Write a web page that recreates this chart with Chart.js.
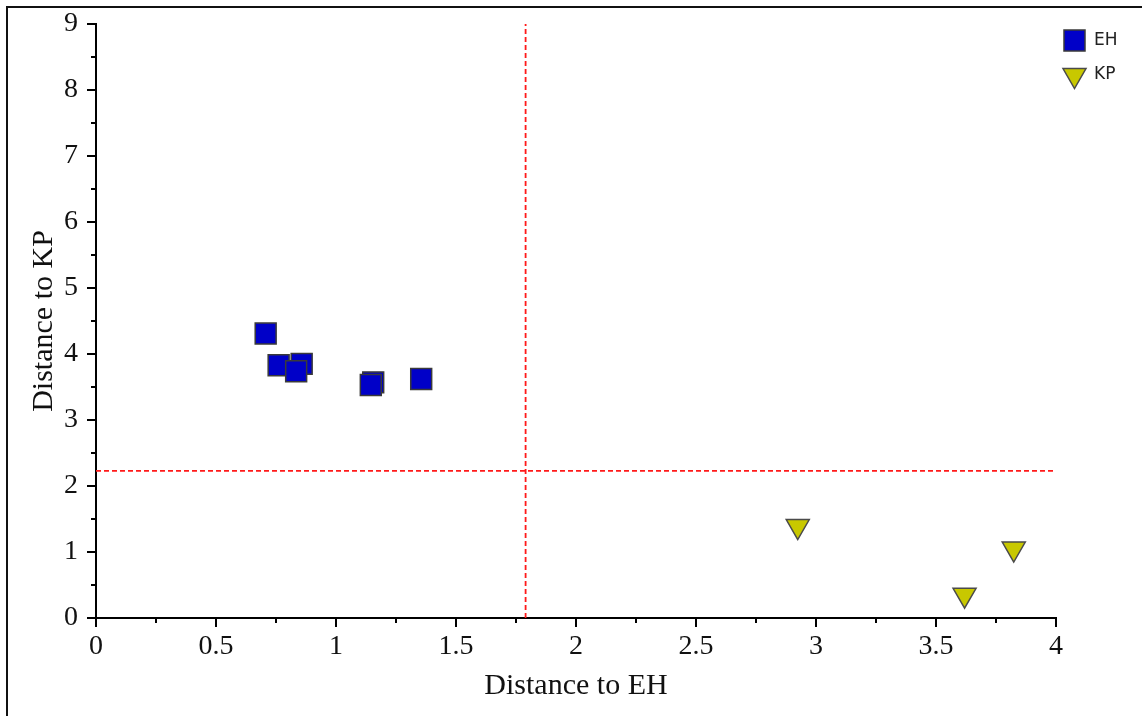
<!DOCTYPE html>
<html><head><meta charset="utf-8">
<script src="https://cdn.jsdelivr.net/npm/chart.js@4.4.1/dist/chart.umd.min.js"></script>
<style>html,body{margin:0;padding:0;background:#fff;} canvas{display:block;}</style>
</head><body>
<canvas id="c" width="1142" height="716"></canvas>
<script>
const seriesNames = ['EH', 'KP'];
const ehX = [0.707, 0.761, 0.857, 0.834, 1.155, 1.145, 1.355];
const ehY = [4.31, 3.83, 3.85, 3.74, 3.57, 3.53, 3.62];
const kpX = [2.924, 3.619, 3.824];
const kpY = [1.39, 0.35, 1.05];
const cutX = 1.79;
const cutY = 2.23;
const xTicks = [0, 0.5, 1, 1.5, 2, 2.5, 3, 3.5, 4];
const xMinor = [0.25, 0.75, 1.25, 1.75, 2.25, 2.75, 3.25, 3.75];
const yTicks = [0, 1, 2, 3, 4, 5, 6, 7, 8, 9];
const yMinor = [0.5, 1.5, 2.5, 3.5, 4.5, 5.5, 6.5, 7.5, 8.5];
const xTitle = 'Distance to EH';
const yTitle = 'Distance to KP';

const EH_FILL = '#0000c8', EH_EDGE = '#3a3a3a';
const KP_FILL = '#c8c800', KP_EDGE = '#4a4a4a';

const framePlugin = {
  id: 'frame',
  beforeDraw(chart) {
    const ctx = chart.ctx;
    ctx.save();
    ctx.fillStyle = '#fff';
    ctx.fillRect(0, 0, chart.width, chart.height);
    ctx.strokeStyle = '#111';
    ctx.lineWidth = 2;
    ctx.beginPath();
    ctx.moveTo(7, chart.height);
    ctx.lineTo(7, 7);
    ctx.lineTo(chart.width, 7);
    ctx.stroke();
    ctx.restore();
  }
};

const tickPlugin = {
  id: 'tickmarks',
  afterDraw(chart) {
    const ctx = chart.ctx;
    const xs = chart.scales.x, ys = chart.scales.y;
    const b = chart.chartArea.bottom, l = chart.chartArea.left;
    ctx.save();
    ctx.strokeStyle = '#000';
    ctx.lineWidth = 2;
    ctx.beginPath();
    xTicks.forEach(v => { const p = xs.getPixelForValue(v); ctx.moveTo(p, b); ctx.lineTo(p, b + 9); });
    xMinor.forEach(v => { const p = xs.getPixelForValue(v); ctx.moveTo(p, b); ctx.lineTo(p, b + 5); });
    yTicks.forEach(v => { const p = ys.getPixelForValue(v); ctx.moveTo(l, p); ctx.lineTo(l - 9, p); });
    yMinor.forEach(v => { const p = ys.getPixelForValue(v); ctx.moveTo(l, p); ctx.lineTo(l - 5, p); });
    ctx.stroke();

    // legend
    ctx.lineWidth = 1.5;
    ctx.fillStyle = EH_FILL; ctx.strokeStyle = EH_EDGE;
    ctx.beginPath(); ctx.rect(1064, 30, 21, 21); ctx.fill(); ctx.stroke();
    ctx.fillStyle = KP_FILL; ctx.strokeStyle = KP_EDGE;
    ctx.beginPath();
    ctx.moveTo(1063, 68.5); ctx.lineTo(1086, 68.5); ctx.lineTo(1074.5, 88.5); ctx.closePath();
    ctx.fill(); ctx.stroke();
    ctx.fillStyle = '#222';
    ctx.font = '17px "DejaVu Sans"';
    ctx.textBaseline = 'middle';
    ctx.textAlign = 'left';
    ctx.fillText(seriesNames[0], 1094, 41);
    ctx.fillText(seriesNames[1], 1094, 75);
    ctx.restore();
  }
};

const serif = '"Liberation Serif", "Times New Roman", serif';

new Chart(document.getElementById('c'), {
  type: 'scatter',
  data: {
    datasets: [
      {
        label: 'cutX', data: [{x: cutX, y: 0}, {x: cutX, y: 9}], showLine: true,
        borderColor: '#ff1a1a', borderWidth: 1.8, borderDash: [5, 3], pointRadius: 0, fill: false, order: 3
      },
      {
        label: 'cutY', data: [{x: 0, y: cutY}, {x: 4, y: cutY}], showLine: true,
        borderColor: '#ff1a1a', borderWidth: 1.8, borderDash: [5, 3], pointRadius: 0, fill: false, order: 3
      },
      {
        label: seriesNames[0], data: ehX.map((x, i) => ({x, y: ehY[i]})),
        pointStyle: 'rect', pointRadius: 14.8,
        pointBackgroundColor: EH_FILL, pointBorderColor: EH_EDGE, pointBorderWidth: 1.5, order: 1
      },
      {
        label: seriesNames[1], data: kpX.map((x, i) => ({x, y: kpY[i]})),
        pointStyle: 'triangle', pointRotation: 180, pointRadius: 13.3,
        pointBackgroundColor: KP_FILL, pointBorderColor: KP_EDGE, pointBorderWidth: 1.5, order: 2
      }
    ]
  },
  options: {
    responsive: false,
    animation: false,
    events: [],
    clip: false,
    layout: {padding: {left: 8, top: 24, right: 86, bottom: 0}},
    plugins: {legend: {display: false}, tooltip: {enabled: false}},
    scales: {
      x: {
        type: 'linear', min: 0, max: 4,
        afterBuildTicks: s => { s.ticks = xTicks.map(v => ({value: v})); },
        afterFit: s => { s.height = 98; s.paddingLeft = 0; s.paddingRight = 0; },
        grid: {display: false, drawTicks: false},
        border: {display: true, color: '#000', width: 2},
        ticks: {color: '#111', font: {family: serif, size: 28}, padding: 12, maxRotation: 0, callback: v => String(v)},
        title: {display: true, text: xTitle, color: '#111', font: {family: serif, size: 30}, padding: {top: 0, bottom: 12}}
      },
      y: {
        type: 'linear', min: 0, max: 9,
        afterBuildTicks: s => { s.ticks = yTicks.map(v => ({value: v})); },
        afterFit: s => { s.width = 88; s.paddingTop = 0; s.paddingBottom = 0; },
        grid: {display: false, drawTicks: false},
        border: {display: true, color: '#000', width: 2},
        ticks: {color: '#111', font: {family: serif, size: 28}, padding: 18, callback: v => String(v)},
        title: {display: true, text: yTitle, color: '#111', font: {family: serif, size: 30}, padding: {top: 18, bottom: 0}}
      }
    }
  },
  plugins: [framePlugin, tickPlugin]
});
</script>
</body></html>
